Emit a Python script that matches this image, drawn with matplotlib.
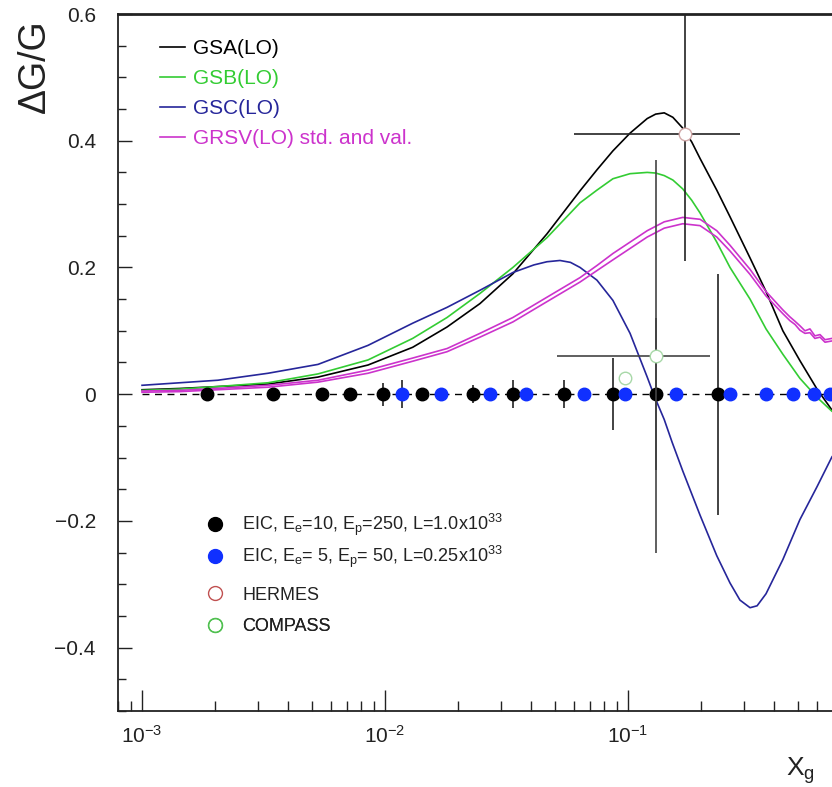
import numpy as np
import matplotlib
matplotlib.use("Agg")
import matplotlib.pyplot as plt
from matplotlib.ticker import NullFormatter, FixedLocator, FixedFormatter, MultipleLocator, LogLocator
from matplotlib.lines import Line2D

plt.rcParams['font.family'] = ['Liberation Sans', 'DejaVu Sans']
plt.rcParams['mathtext.default'] = 'regular'

# ---------------- data ----------------
x_grid = [0.00100, 0.00143, 0.00205, 0.00330, 0.00530, 0.00851, 0.0130, 0.0180, 0.0246,
          0.0336, 0.0464, 0.0635, 0.0745, 0.0867, 0.102, 0.120, 0.130, 0.141, 0.153,
          0.168, 0.183, 0.198, 0.232, 0.263, 0.318, 0.370, 0.434, 0.510, 0.600, 0.691, 1.0]

gsa = [0.007, 0.009, 0.012, 0.016, 0.027, 0.046, 0.074, 0.106, 0.143,
       0.190, 0.253, 0.321, 0.354, 0.384, 0.412, 0.435, 0.442, 0.444, 0.437,
       0.420, 0.398, 0.372, 0.322, 0.280, 0.215, 0.162, 0.100, 0.053, 0.008, -0.025, -0.070]

gsb = [0.006, 0.008, 0.012, 0.018, 0.032, 0.054, 0.088, 0.121, 0.159,
       0.200, 0.247, 0.302, 0.322, 0.340, 0.348, 0.350, 0.349, 0.345, 0.338,
       0.324, 0.306, 0.286, 0.240, 0.200, 0.150, 0.103, 0.063, 0.025, -0.005, -0.027, -0.060]

x_gsc = [0.00100, 0.00143, 0.00205, 0.00330, 0.00530, 0.00851, 0.0130, 0.0180, 0.0246,
         0.0336, 0.0410, 0.0464, 0.0525, 0.0580, 0.0635, 0.0745, 0.0867, 0.102, 0.120,
         0.129, 0.141, 0.152, 0.168, 0.198, 0.232, 0.263, 0.289, 0.318, 0.340, 0.370,
         0.434, 0.510, 0.600, 0.691, 1.0]
gsc = [0.014, 0.018, 0.022, 0.033, 0.047, 0.077, 0.112, 0.137, 0.164,
       0.192, 0.204, 0.209, 0.211, 0.208, 0.200, 0.180, 0.148, 0.096, 0.027,
       -0.005, -0.040, -0.076, -0.121, -0.191, -0.255, -0.298, -0.325, -0.337, -0.334, -0.315,
       -0.261, -0.198, -0.146, -0.099, -0.020]

x_grsv = [0.00100, 0.00143, 0.00205, 0.00330, 0.00530, 0.00851, 0.0130, 0.0180, 0.0246,
          0.0336, 0.0464, 0.0635, 0.0745, 0.0867, 0.102, 0.120, 0.141, 0.168, 0.198,
          0.232, 0.263, 0.318, 0.370, 0.434, 0.464, 0.487, 0.510, 0.535, 0.561,
          0.588, 0.617, 0.647, 0.691, 0.75, 0.85, 1.0]
grsv_std = [0.005, 0.006, 0.009, 0.014, 0.022, 0.038, 0.057, 0.072, 0.096,
            0.121, 0.153, 0.184, 0.203, 0.222, 0.240, 0.258, 0.272, 0.279, 0.276,
            0.258, 0.235, 0.197, 0.162, 0.133, 0.122, 0.115, 0.108, 0.100, 0.103,
            0.092, 0.094, 0.086, 0.088, 0.084, 0.087, 0.083]
grsv_val = [0.003, 0.004, 0.007, 0.011, 0.019, 0.033, 0.052, 0.067, 0.090,
            0.114, 0.146, 0.177, 0.195, 0.212, 0.230, 0.248, 0.262, 0.269, 0.266,
            0.248, 0.226, 0.189, 0.155, 0.127, 0.116, 0.110, 0.101, 0.096, 0.097,
            0.088, 0.090, 0.082, 0.084, 0.080, 0.083, 0.079]

# EIC Ee=10, Ep=250
eic1_x = [0.00185, 0.00346, 0.0055, 0.0072, 0.0098, 0.0142, 0.0230, 0.0337, 0.0546,
          0.0867, 0.131, 0.234]
eic1_err = [0.004, 0.004, 0.004, 0.004, 0.018, 0.005, 0.014, 0.022, 0.022,
            0.057, 0.12, 0.19]
# EIC Ee=5, Ep=50
eic2_x = [0.01175, 0.0170, 0.0270, 0.0380, 0.0659, 0.0973, 0.158, 0.263, 0.370,
          0.478, 0.582, 0.678, 0.80]
eic2_err = [0.022, 0.004, 0.004, 0.004, 0.004, 0.004, 0.004, 0.004, 0.004,
            0.004, 0.004, 0.004, 0.004]

hermes_x, hermes_y = [0.172], [0.41]
hermes_xlo, hermes_xhi = [0.060], [0.290]
hermes_yerr = [0.20]

compass_x, compass_y = [0.131, 0.097], [0.060, 0.025]
compass_xlo, compass_xhi = [0.051, 0.097], [0.217, 0.097]
compass_yerr = [0.31, 0.0]

zero_line_start = 1e-3

xlim = (10 ** -3.099, 1.0)
ylim = (-0.5, 0.6)
xtick_vals = [1e-3, 1e-2, 1e-1]
ytick_vals = [-0.4, -0.2, 0.0, 0.2, 0.4, 0.6]
ytick_labels = ["\u22120.4", "\u22120.2", "0", "0.2", "0.4", "0.6"]

c_gsa = "black"
c_gsb = "#33cc33"
c_gsc = "#26269a"
c_grsv = "#cc33cc"
c_blue = "#1030ff"

# ---------------- figure ----------------
fig = plt.figure(figsize=(8.32, 7.87), dpi=100)
ax = fig.add_axes([0.1418, 0.0966, 0.905, 0.8856])
ax.set_xscale('log')
ax.set_xlim(*xlim)
ax.set_ylim(*ylim)

# curves
l_gsa, = ax.plot(x_grid, gsa, color=c_gsa, lw=1.2, zorder=2)
l_gsb, = ax.plot(x_grid, gsb, color=c_gsb, lw=1.2, zorder=2)
l_gsc, = ax.plot(x_gsc, gsc, color=c_gsc, lw=1.2, zorder=2)
l_grsv, = ax.plot(x_grsv, grsv_std, color=c_grsv, lw=1.2, zorder=2)
ax.plot(x_grsv, grsv_val, color=c_grsv, lw=1.2, zorder=2)

# zero line
ax.hlines(0, zero_line_start, xlim[1], colors='black', linestyles=(0, (5, 4)), lw=1.0, zorder=1.5)

# EIC points
ax.errorbar(eic1_x, np.zeros(len(eic1_x)), yerr=eic1_err, fmt='o', color='black',
            ms=9, ecolor='#222222', elinewidth=1.2, capsize=0, zorder=3)
ax.errorbar(eic2_x, np.zeros(len(eic2_x)), yerr=eic2_err, fmt='o', color=c_blue,
            ms=9, ecolor='#222222', elinewidth=1.2, capsize=0, zorder=3)

# HERMES
hx = np.array(hermes_x)
ax.errorbar(hermes_x, hermes_y,
            xerr=[hx - np.array(hermes_xlo), np.array(hermes_xhi) - hx],
            yerr=hermes_yerr, fmt='o', ms=9, mfc='white', mec='#d0a8a8',
            ecolor='#222222', elinewidth=1.2, capsize=0, zorder=4)
# COMPASS
cx = np.array(compass_x)
ax.errorbar(compass_x, compass_y,
            xerr=[cx - np.array(compass_xlo), np.array(compass_xhi) - cx],
            yerr=compass_yerr, fmt='o', ms=9, mfc='white', mec='#a8d8a8',
            ecolor='#444444', elinewidth=1.2, capsize=0, zorder=4)

# axes styling
for s in ['top', 'left', 'bottom']:
    ax.spines[s].set_linewidth(1.3)
    ax.spines[s].set_color('#222222')
ax.spines['top'].set_linewidth(2.0)
ax.spines['right'].set_visible(False)

ax.xaxis.set_major_locator(FixedLocator(xtick_vals))
ax.xaxis.set_minor_locator(LogLocator(base=10, subs=np.arange(2, 10), numticks=20))
ax.xaxis.set_minor_formatter(NullFormatter())
ax.yaxis.set_major_locator(FixedLocator(ytick_vals))
ax.yaxis.set_major_formatter(FixedFormatter(ytick_labels))
ax.yaxis.set_minor_locator(MultipleLocator(0.05))

ax.tick_params(axis='x', which='major', direction='in', length=15, width=1.0,
               labelsize=15, pad=10, colors='#222222', top=False)
ax.tick_params(axis='x', which='minor', direction='in', length=7, width=1.0,
               colors='#222222', top=False)
ax.tick_params(axis='y', which='major', direction='in', length=10, width=1.0,
               labelsize=15, pad=16, colors='#222222', right=False)
ax.tick_params(axis='y', which='minor', direction='in', length=6, width=1.0,
               colors='#222222', right=False)

ax.set_ylabel("\u0394G/G", fontsize=27, color='#222222')
ax.yaxis.set_label_coords(-0.087, 0.925)
ax.set_xlabel("X$_g$", fontsize=19, color='#222222')
ax.xaxis.set_label_coords(0.906, -0.063)

# legend of curves
leg1 = ax.legend([l_gsa, l_gsb, l_gsc, l_grsv],
                 ["GSA(LO)", "GSB(LO)", "GSC(LO)", "GRSV(LO) std. and val."],
                 loc='upper left', bbox_to_anchor=(0.0558, 0.9637), frameon=False,
                 fontsize=15, handlelength=1.2, handletextpad=0.4, labelspacing=0.52,
                 borderaxespad=0, borderpad=0, labelcolor='linecolor')
ax.add_artist(leg1)

# legend of data sets (one row per entry for exact row placement)
h2 = [Line2D([], [], ls='none', marker='o', ms=10, color='black'),
      Line2D([], [], ls='none', marker='o', ms=10, color=c_blue),
      Line2D([], [], ls='none', marker='o', ms=10, mfc='none', mec='#c05050'),
      Line2D([], [], ls='none', marker='o', ms=10, mfc='none', mec='#50c050')]
lab2 = ["EIC, E$_e$=10, E$_p$=250, L=1.0x10$^{33}$",
        "EIC, E$_e$= 5, E$_p$= 50, L=0.25x10$^{33}$",
        "HERMES", "COMPASS"]
row_y = [0.2669, 0.2209, 0.1664, 0.1205]
for h, lab, yy in zip(h2, lab2, row_y):
    lg = ax.legend([h], [lab], loc='center left', bbox_to_anchor=(0.1169, yy), frameon=False,
                   fontsize=13, handlelength=1.0, handletextpad=1.0,
                   borderaxespad=0, borderpad=0, labelcolor='#222222')
    ax.add_artist(lg)

fig.savefig("out.png", dpi=100)
